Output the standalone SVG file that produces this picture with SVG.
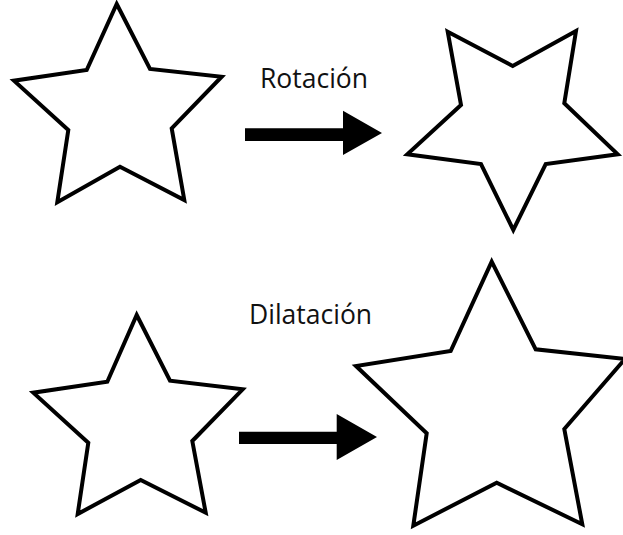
<svg xmlns="http://www.w3.org/2000/svg" width="623" height="535" viewBox="0 0 623 535">
  <style>
    .star { fill: #ffffff; stroke: #000000; stroke-width: 4; stroke-linejoin: miter; }
    .arrow { fill: #000000; stroke: none; }
    .label { font-family: "Open Sans", "Noto Sans", "DejaVu Sans", sans-serif; font-size: 26.5px; fill: #111111; }
  </style>
  <rect width="623" height="535" fill="#ffffff"/>

  <!-- original star, top row -->
  <g id="star-original-top">
    <polygon class="star" points="116.7,4 150,69 221.7,76.7 171.7,128.3 184.3,200 120,166.7 57.3,202.3 68.3,130 14,80.7 86.7,70"/>
  </g>

  <!-- rotated star -->
  <g id="star-rotated">
    <polygon class="star" points="447.7,31.7 512.7,66 576,31 564.3,103.3 617.7,154.3 545.7,164 513.3,230 481,164 407.3,154.3 461,105"/>
  </g>

  <!-- original star, bottom row -->
  <g id="star-original-bottom">
    <polygon class="star" points="136.7,315 170,380.7 242.7,389.3 192.3,441 205.7,512.7 140.7,480 77.7,514 88.3,442.7 33.3,392.7 107.3,381.7"/>
  </g>

  <!-- dilated star -->
  <g id="star-dilated">
    <polygon class="star" points="491.7,261.7 535.7,349.3 625,359 564.3,429 582.3,524.3 496.7,482.7 413.3,525.7 426.7,433.3 356,366 450.7,351"/>
  </g>

  <g id="connectors">
    <polygon class="arrow" points="245,128.3 343,128.3 343,110.7 382,133 343,155 343,141 245,141"/>
    <polygon class="arrow" points="239,431.7 336.7,431.7 336.7,414 377,437 336.7,460 336.7,444 239,444"/>
  </g>

  <g id="labels">
    <text class="label" x="260" y="88">Rotación</text>
    <text class="label" x="249" y="324">Dilatación</text>
  </g>
</svg>
